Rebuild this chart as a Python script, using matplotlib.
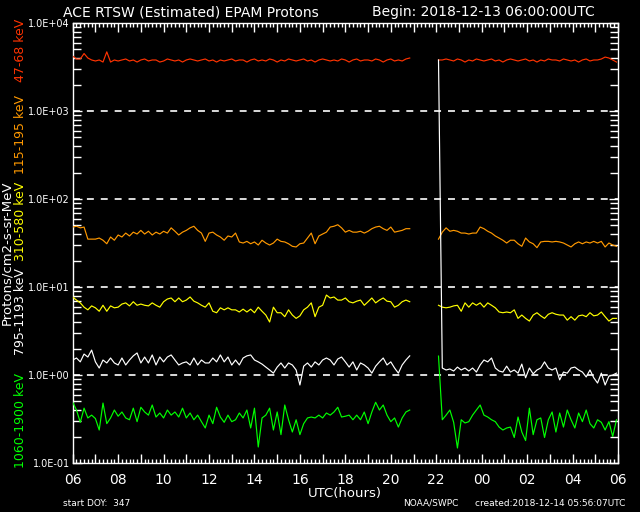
import numpy as np
import matplotlib
matplotlib.use('Agg')
import matplotlib.pyplot as plt
from matplotlib.ticker import LogLocator, NullFormatter

plt.rcParams['lines.scale_dashes'] = False
plt.rcParams['font.family'] = ['DejaVu Sans']

# ---------------- data (hours after 2018-12-13 06:00 UTC, 10-minute cadence) -------------
SEG1_START = 0.0      # 06:00 UTC
SEG2_START = 16.1     # ~22:06 UTC (after data gap)
STEP_H = 1.0 / 6.0

red1 = [4200, 3900, 3900, 4500, 4000, 3800, 3700, 3800, 3600, 4700, 3600, 3800, 3700, 3800, 3900,
        3700, 3800, 3600, 3800, 3900, 3700, 3800, 3800, 3600, 3700, 3900, 3800, 3700, 3800, 3600,
        3800, 3900, 3800, 3700, 3800, 3900, 3700, 3800, 3600, 3800, 3700, 3800, 3900, 3700, 3800,
        3800, 3600, 3800, 3900, 3700, 3800, 3700, 3900, 3800, 3600, 3800, 3700, 3900, 3800, 3700,
        3800, 3900, 3700, 3800, 3600, 3800, 3900, 3800, 3700, 3800, 3700, 3900, 3800, 3600, 3800,
        3900, 3700, 3800, 3800, 3700, 3900, 3800, 3600, 3800, 3900, 3700, 3800, 3700, 3900, 4000]
red2 = [3800, 3800, 3900, 3800, 3700, 3900, 3800, 3600, 3800, 3700, 3900, 3800, 3700, 3800, 3900,
        3700, 3800, 3600, 3800, 3900, 3800, 3700, 3800, 3900, 3700, 3800, 3600, 3800, 3700, 3900,
        3800, 3800, 3700, 3900, 3800, 3700, 3800, 3600, 3800, 3900, 3700, 3800, 3800, 3900, 4100,
        4000, 3800, 3600]

orange1 = [48, 49, 47, 48, 35, 35, 35, 36, 34, 31, 37, 34, 39, 37, 41, 38, 42, 40, 44, 40,
           43, 39, 42, 40, 43, 41, 47, 43, 39, 42, 44, 47, 49, 44, 41, 33, 41, 42, 39, 37,
           34, 38, 37, 41, 32.5, 31.6, 33, 31, 32.5, 30, 34, 31.6, 30, 31.6, 35, 33, 32.5, 31, 29, 28.5,
           31, 31.6, 36, 41, 31, 38, 40, 42, 48, 49, 51, 47, 42, 44, 42, 42, 43, 41, 43, 46,
           48, 49, 46, 44, 48, 42, 43, 44, 46, 46]
orange2 = [35, 42, 47, 43, 44, 43, 41, 41, 40, 41, 41, 48, 46, 43, 41, 38, 36, 34, 31.6, 34,
           34, 31, 29, 36, 32.5, 31, 28, 32.5, 33, 33, 32.5, 33, 32.5, 31.6, 30, 28.5, 31, 32.5, 31, 32.5,
           31.6, 33, 31.6, 33, 28.5, 31.6, 30, 29]

yellow1 = [7.7, 7.1, 6.6, 5.9, 5.5, 6.1, 5.8, 5.3, 6.2, 5.3, 6.1, 5.8, 5.9, 6.4, 6.6, 6.1, 6.8, 6.2, 6.4, 6.2,
           6.1, 6.6, 6.2, 5.9, 6.8, 7.3, 7.5, 6.8, 7.5, 6.8, 7.1, 7.7, 6.9, 6.6, 6.2, 5.9, 6.6, 5.3, 5.1, 5.8,
           5.5, 5.8, 5.5, 5.5, 5.2, 5.6, 5.2, 5.6, 5.1, 5.9, 5.3, 4.8, 4.0, 5.9, 5.1, 5.1, 4.6, 5.5, 4.8, 4.4,
           4.7, 5.5, 5.9, 6.6, 4.6, 5.9, 6.2, 8.1, 7.5, 7.7, 7.1, 7.1, 7.5, 6.8, 6.6, 6.9, 7.1, 6.2, 6.8, 7.5,
           6.6, 7.1, 7.5, 6.9, 6.8, 5.9, 6.2, 6.8, 7.1, 6.8]
yellow2 = [6.2, 5.9, 5.8, 5.9, 6.1, 6.2, 5.3, 6.6, 5.9, 6.6, 6.2, 6.6, 5.9, 6.6, 6.2, 5.8, 5.2, 5.1, 5.2, 5.1,
           5.5, 4.4, 4.8, 4.4, 4.1, 4.8, 5.1, 4.7, 4.4, 4.9, 5.1, 4.9, 4.8, 4.8, 4.2, 4.6, 4.2, 4.7, 4.8, 4.6,
           5.1, 4.7, 4.8, 5.2, 4.6, 4.1, 4.4, 4.4]

white1 = [1.48, 1.56, 1.41, 1.73, 1.60, 1.92, 1.41, 1.20, 1.48, 1.37, 1.56, 1.37, 1.30, 1.56, 1.30,
          1.48, 1.65, 1.78, 1.37, 1.60, 1.37, 1.69, 1.30, 1.60, 1.41, 1.60, 1.69, 1.48, 1.30, 1.37,
          1.41, 1.30, 1.56, 1.30, 1.48, 1.37, 1.37, 1.56, 1.41, 1.69, 1.41, 1.60, 1.30, 1.48, 1.30,
          1.56, 1.65, 1.69, 1.48, 1.41, 1.33, 1.23, 1.14, 1.05, 1.23, 1.37, 1.20, 1.37, 1.30, 1.14,
          0.77, 1.26, 1.37, 1.23, 1.41, 1.30, 1.48, 1.56, 1.48, 1.30, 1.52, 1.60, 1.41, 1.23, 1.41,
          1.14, 1.37, 1.30, 1.20, 1.05, 1.26, 1.41, 1.56, 1.30, 1.41, 1.20, 1.05, 1.30, 1.48, 1.65]
white2 = [3800, 1.20, 1.14, 1.17, 1.11, 1.23, 1.14, 1.20, 1.11, 1.20, 1.08, 1.30, 1.48, 1.41, 1.56,
          1.20, 1.11, 1.08, 1.26, 1.08, 1.14, 1.05, 1.33, 0.93, 1.20, 1.03, 1.14, 1.20, 1.41, 1.20,
          1.14, 1.20, 0.88, 1.08, 1.05, 1.20, 1.23, 1.14, 1.08, 0.95, 1.14, 0.93, 0.81, 1.05, 0.77,
          0.97, 1.00, 1.05]

green1 = [0.49, 0.40, 0.29, 0.42, 0.325, 0.35, 0.32, 0.237, 0.48, 0.28, 0.325, 0.40, 0.34, 0.38, 0.325,
          0.31, 0.42, 0.295, 0.43, 0.38, 0.35, 0.456, 0.333, 0.37, 0.325, 0.40, 0.35, 0.38, 0.333, 0.42,
          0.325, 0.37, 0.31, 0.35, 0.295, 0.25, 0.35, 0.28, 0.43, 0.333, 0.29, 0.35, 0.295, 0.31, 0.37,
          0.325, 0.40, 0.25, 0.42, 0.152, 0.325, 0.35, 0.42, 0.237, 0.38, 0.21, 0.456, 0.31, 0.225, 0.31,
          0.21, 0.28, 0.325, 0.333, 0.325, 0.35, 0.325, 0.37, 0.35, 0.38, 0.43, 0.333, 0.34, 0.35, 0.31,
          0.35, 0.31, 0.38, 0.28, 0.38, 0.49, 0.40, 0.456, 0.35, 0.295, 0.325, 0.256, 0.325, 0.38, 0.40]
green2 = [1.64, 0.31, 0.35, 0.40, 0.29, 0.148, 0.31, 0.285, 0.295, 0.35, 0.40, 0.456, 0.35, 0.333, 0.31,
          0.295, 0.256, 0.237, 0.25, 0.256, 0.195, 0.333, 0.225, 0.18, 0.42, 0.21, 0.31, 0.325, 0.195, 0.31,
          0.38, 0.225, 0.37, 0.256, 0.40, 0.31, 0.25, 0.37, 0.295, 0.40, 0.28, 0.25, 0.31, 0.29, 0.237,
          0.295, 0.20, 0.31]

series = [
    ("47-68 keV", "#ff3300", red1, red2),
    ("115-195 keV", "#ff9900", orange1, orange2),
    ("310-580 keV", "#ffff00", yellow1, yellow2),
    ("1060-1900 keV", "#00ff00", green1, green2),
    ("795-1193 keV", "#ffffff", white1, white2),
]

x_tick_hours = list(range(0, 25, 2))
x_tick_labels = ["06", "08", "10", "12", "14", "16", "18", "20", "22", "00", "02", "04", "06"]
y_ticks = [1e-1, 1e0, 1e1, 1e2, 1e3, 1e4]
y_tick_labels = ["1.0E-01", "1.0E+00", "1.0E+01", "1.0E+02", "1.0E+03", "1.0E+04"]
grid_levels = [1e0, 1e1, 1e2, 1e3]

# ---------------- figure -------------
W, H = 640, 512
fig = plt.figure(figsize=(W / 100, H / 100), dpi=100, facecolor='black')
L, R, T, B = 72.7, 618.0, 23.0, 463.0
ax = fig.add_axes([L / W, 1 - B / H, (R - L) / W, (B - T) / H])
ax.set_facecolor('black')
ax.set_yscale('log')
ax.set_xlim(0, 24)
ax.set_ylim(1e-1, 1e4)

for lv in grid_levels:
    ax.axhline(lv, color='white', lw=1.2, dashes=(5.0, 5.0), dash_capstyle='butt', zorder=1)

for name, col, v1, v2 in series:
    t1 = SEG1_START + np.arange(len(v1)) * STEP_H
    t2 = SEG2_START + np.arange(len(v2)) * STEP_H
    ax.plot(t1, v1, color=col, lw=0.85, zorder=3)
    ax.plot(t2, v2, color=col, lw=0.85, zorder=3)

for s in ax.spines.values():
    s.set_color('white')
    s.set_linewidth(1.0)

ax.set_xticks(np.arange(0, 25, 1))
ax.set_xticklabels([x_tick_labels[x_tick_hours.index(h)] if h in x_tick_hours else "" for h in range(25)])
ax.set_xticks(np.arange(0, 24.001, 1 / 6), minor=True)
ax.set_yticks(y_ticks)
ax.set_yticklabels(y_tick_labels)
ax.yaxis.set_minor_locator(LogLocator(base=10, subs=np.arange(2, 10)))
ax.yaxis.set_minor_formatter(NullFormatter())

ax.tick_params(axis='both', which='both', direction='in', top=True, right=True,
               colors='white', width=1.0)
ax.tick_params(axis='x', which='major', length=6.5, labelsize=10, pad=7)
ax.tick_params(axis='x', which='minor', length=3.0)
ax.tick_params(axis='y', which='major', length=6.5, labelsize=7, pad=2)
ax.tick_params(axis='y', which='minor', length=5.8)


def ftext(x, y, s, **kw):
    fig.text(x / W, 1 - y / H, s, **kw)


ftext(63, 12, "ACE RTSW (Estimated) EPAM Protons", color='white', fontsize=10, ha='left', va='center')
ftext(372, 12, "Begin: 2018-12-13 06:00:00UTC", color='white', fontsize=10, ha='left', va='center')
ftext(345, 494, "UTC(hours)", color='white', fontsize=9.5, ha='center', va='center')
ftext(63, 503, "start DOY:  347", color='white', fontsize=6.5, ha='left', va='center')
ftext(403, 503, "NOAA/SWPC", color='white', fontsize=6.5, ha='left', va='center')
ftext(625, 503, "created:2018-12-14 05:56:07UTC", color='white', fontsize=6.5, ha='right', va='center')
ftext(7, 253, "Protons/cm2-s-sr-MeV", color='white', fontsize=9.5, rotation=90, ha='center', va='center')

label_pos = {"47-68 keV": 50, "115-195 keV": 135, "310-580 keV": 221,
             "795-1193 keV": 312, "1060-1900 keV": 420}
for name, col, v1, v2 in series:
    ftext(20.5, label_pos[name], name, color=col, fontsize=9, rotation=90, ha='center', va='center')

fig.savefig('out.png', dpi=100, facecolor='black')
